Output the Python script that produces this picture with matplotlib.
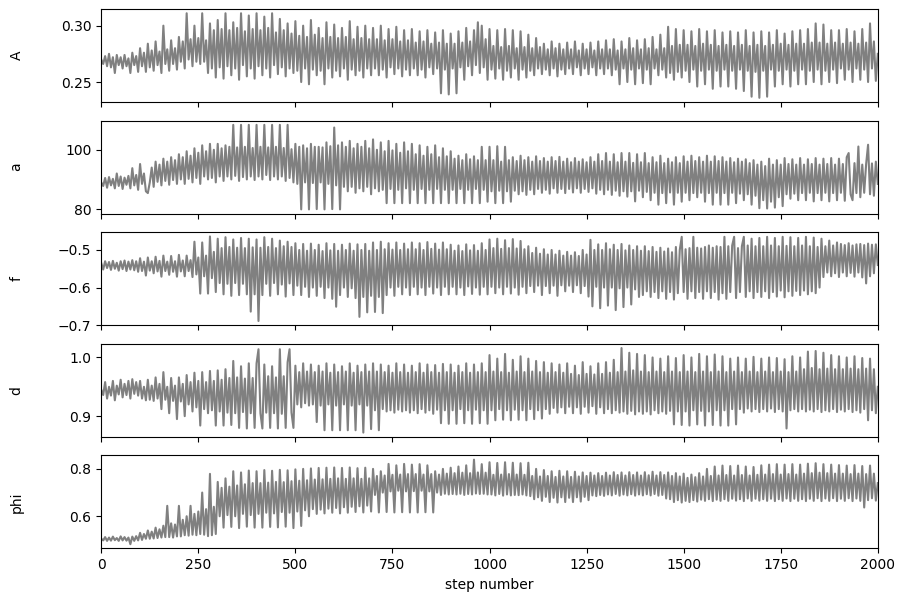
import numpy as np
import matplotlib
matplotlib.use("Agg")
from matplotlib import pyplot as plt

# chain values, one value every 5 steps
step_size = 5
labels = ["A", "a", "f", "d", "phi"]

A_trace = [
    .270, .266, .273, .264, .275, .263, .272, .258, .274, .265, .272, .262, .274, .264, .271, .258, .276, .265, .273, .259,
    .280, .264, .276, .259, .284, .263, .278, .260, .286, .265, .277, .258, .300, .266, .279, .260, .287, .266, .280, .261,
    .290, .268, .286, .262, .311, .270, .288, .264, .300, .268, .289, .266, .311, .268, .287, .258, .302, .262, .296, .254,
    .305, .263, .297, .253, .311, .264, .296, .256, .303, .262, .298, .252, .311, .265, .295, .255, .309, .262, .297, .253,
    .311, .264, .296, .256, .308, .262, .298, .254, .311, .265, .294, .257, .306, .263, .296, .255, .302, .262, .293, .258,
    .304, .260, .291, .250, .300, .262, .290, .248, .305, .261, .292, .256, .298, .260, .289, .248, .303, .262, .290, .254,
    .301, .260, .289, .255, .298, .262, .290, .252, .304, .261, .288, .256, .299, .260, .289, .254, .300, .262, .288, .256,
    .298, .262, .288, .256, .300, .261, .287, .254, .297, .263, .288, .257, .299, .262, .286, .255, .296, .261, .287, .256,
    .297, .262, .285, .256, .295, .261, .286, .254, .296, .263, .284, .257, .294, .262, .285, .240, .296, .261, .284, .239,
    .293, .262, .284, .240, .295, .263, .285, .252, .298, .264, .286, .256, .296, .265, .303, .258, .300, .263, .288, .252,
    .297, .261, .282, .253, .296, .262, .281, .252, .297, .260, .282, .254, .296, .262, .280, .252, .295, .261, .281, .254,
    .292, .260, .280, .256, .289, .262, .281, .257, .284, .261, .279, .256, .286, .262, .280, .255, .284, .261, .279, .257,
    .285, .262, .279, .257, .286, .263, .278, .256, .284, .262, .279, .257, .285, .263, .278, .256, .286, .262, .279, .257,
    .287, .262, .279, .256, .288, .261, .278, .248, .286, .262, .279, .250, .289, .261, .280, .248, .287, .262, .279, .249,
    .288, .261, .280, .248, .290, .262, .279, .256, .292, .261, .280, .254, .299, .258, .282, .252, .297, .259, .283, .254,
    .296, .260, .283, .250, .295, .261, .282, .246, .297, .260, .284, .248, .295, .261, .283, .244, .296, .260, .282, .246,
    .294, .261, .283, .246, .295, .260, .282, .244, .294, .261, .283, .242, .296, .260, .282, .237, .294, .259, .283, .236,
    .295, .260, .282, .237, .294, .261, .283, .246, .296, .260, .284, .248, .293, .261, .283, .246, .295, .260, .284, .248,
    .296, .261, .284, .248, .297, .260, .285, .250, .302, .261, .285, .248, .301, .260, .284, .250, .296, .261, .285, .249,
    .296, .262, .284, .252, .297, .261, .285, .250, .295, .262, .284, .252, .297, .261, .285, .250, .302, .262, .286, .251,
    .275,
]

a_trace = [
    89.0, 87.8, 90.5, 87.2, 90.8, 88.0, 90.2, 87.0, 92.0, 87.8, 91.0, 86.8, 90.6, 88.2, 91.2, 87.0, 93.8, 88.0, 91.5, 86.5,
    95.2, 88.5, 92.0, 86.0, 85.4, 89.0, 94.0, 87.5, 96.0, 89.2, 95.0, 88.0, 97.0, 89.5, 96.0, 88.2, 97.5, 89.8, 96.5, 88.5,
    98.5, 90.0, 97.5, 88.5, 99.5, 90.2, 98.0, 89.0, 100.5, 90.5, 99.0, 88.5, 101.5, 91.0, 99.5, 90.0, 102.0, 90.5, 100.0, 89.0,
    102.0, 91.0, 100.5, 89.5, 101.5, 91.0, 101.0, 90.0, 108.4, 91.2, 100.8, 89.5, 108.4, 90.8, 101.0, 90.0, 108.4, 91.0, 100.6, 89.8,
    108.4, 91.0, 101.0, 90.0, 108.4, 91.5, 100.8, 89.8, 108.4, 91.0, 101.0, 90.0, 108.4, 91.0, 100.6, 89.5, 108.4, 90.5, 100.2, 89.0,
    102.0, 88.5, 101.0, 79.9, 101.5, 89.0, 100.5, 79.9, 102.0, 88.8, 101.0, 80.0, 101.0, 89.0, 100.8, 79.9, 102.5, 88.5, 101.2, 80.0,
    107.5, 88.0, 101.5, 79.9, 102.5, 87.5, 101.0, 86.0, 103.0, 87.5, 100.5, 85.5, 102.0, 87.0, 101.0, 86.0, 103.0, 87.5, 100.5, 85.0,
    103.5, 87.0, 100.0, 86.0, 102.5, 86.5, 99.5, 82.0, 103.0, 86.8, 99.8, 82.0, 102.0, 86.5, 99.0, 82.0, 102.5, 87.0, 99.5, 82.0,
    102.0, 86.5, 98.5, 82.0, 101.5, 86.8, 98.0, 82.0, 101.0, 86.5, 98.5, 82.0, 101.5, 86.8, 97.5, 82.0, 100.5, 86.5, 97.8, 82.0,
    99.5, 86.5, 97.0, 82.0, 98.0, 86.8, 96.5, 82.0, 98.5, 86.5, 96.8, 82.0, 97.8, 86.8, 96.5, 82.0, 101.0, 86.5, 96.5, 82.5,
    101.0, 86.0, 96.5, 82.0, 101.2, 86.2, 96.0, 82.0, 101.0, 86.0, 96.5, 82.5, 97.5, 86.2, 96.2, 85.0, 98.0, 86.0, 96.5, 84.8,
    97.5, 86.5, 96.0, 85.0, 97.8, 86.8, 96.2, 85.5, 97.2, 86.5, 96.0, 85.2, 97.5, 87.0, 96.2, 85.5, 97.6, 86.8, 96.0, 85.4,
    97.0, 86.8, 95.8, 85.6, 97.2, 87.0, 96.0, 85.5, 96.8, 86.8, 95.8, 85.8, 97.5, 87.0, 96.0, 85.2, 98.5, 86.5, 96.2, 85.0,
    98.9, 86.5, 96.0, 84.8, 98.5, 86.2, 95.8, 84.5, 98.9, 86.0, 96.0, 84.2, 98.9, 86.0, 95.6, 82.6, 98.5, 86.2, 95.8, 84.0,
    98.9, 85.8, 95.5, 83.0, 97.5, 85.5, 95.8, 81.5, 98.0, 85.4, 95.5, 82.0, 97.0, 85.6, 95.8, 81.5, 97.5, 85.5, 95.5, 82.5,
    97.8, 85.5, 96.0, 83.0, 98.0, 85.4, 96.2, 84.0, 97.5, 85.5, 96.0, 82.5, 98.0, 85.4, 96.0, 81.5, 97.8, 85.5, 96.2, 81.5,
    97.5, 85.4, 96.0, 81.5, 97.2, 85.5, 95.8, 82.0, 97.0, 85.2, 96.0, 83.0, 96.8, 85.0, 95.5, 81.5, 96.5, 84.5, 95.0, 80.3,
    96.0, 83.0, 94.5, 80.2, 97.0, 82.5, 95.0, 80.5, 96.5, 84.0, 95.0, 81.0, 97.2, 85.0, 95.2, 83.5, 96.8, 85.2, 95.0, 83.0,
    97.2, 85.4, 95.0, 83.0, 96.8, 85.5, 95.2, 82.6, 97.2, 85.4, 95.0, 83.0, 97.0, 85.5, 95.2, 82.6, 97.2, 85.4, 95.0, 83.0,
    97.0, 85.5, 95.2, 82.8, 97.5, 98.9, 85.0, 83.0, 95.5, 85.4, 101.1, 84.0, 95.0, 85.5, 95.2, 101.7, 85.0, 95.4, 84.5, 96.0,
    88.5,
]

f_trace = [
    -.535, -.552, -.530, -.548, -.532, -.553, -.529, -.550, -.534, -.555, -.530, -.551, -.528, -.556, -.531, -.552, -.527, -.554, -.530, -.558,
    -.522, -.556, -.531, -.568, -.520, -.555, -.530, -.562, -.518, -.557, -.529, -.571, -.515, -.556, -.531, -.566, -.516, -.558, -.530, -.571,
    -.513, -.557, -.528, -.570, -.515, -.556, -.527, -.572, -.478, -.565, -.520, -.616, -.480, -.570, -.515, -.616, -.464, -.575, -.505, -.612,
    -.470, -.588, -.495, -.618, -.466, -.590, -.492, -.622, -.472, -.588, -.494, -.620, -.468, -.590, -.495, -.618, -.470, -.664, -.493, -.618,
    -.472, -.689, -.494, -.620, -.466, -.590, -.492, -.622, -.470, -.588, -.495, -.618, -.475, -.592, -.490, -.624, -.478, -.589, -.492, -.620,
    -.482, -.595, -.500, -.620, -.484, -.598, -.502, -.625, -.483, -.600, -.500, -.622, -.486, -.598, -.503, -.628, -.482, -.600, -.501, -.630,
    -.484, -.651, -.502, -.620, -.486, -.600, -.500, -.625, -.483, -.602, -.502, -.628, -.485, -.678, -.500, -.625, -.484, -.666, -.502, -.622,
    -.480, -.665, -.500, -.625, -.478, -.668, -.498, -.620, -.482, -.600, -.499, -.622, -.480, -.598, -.500, -.618, -.483, -.600, -.498, -.620,
    -.480, -.598, -.498, -.618, -.482, -.600, -.500, -.620, -.479, -.598, -.497, -.616, -.483, -.600, -.499, -.620, -.480, -.598, -.498, -.618,
    -.486, -.598, -.502, -.618, -.488, -.600, -.503, -.620, -.485, -.597, -.501, -.617, -.487, -.600, -.502, -.619, -.482, -.598, -.500, -.618,
    -.472, -.598, -.495, -.615, -.470, -.600, -.497, -.618, -.474, -.598, -.495, -.616, -.471, -.600, -.496, -.619, -.476, -.598, -.498, -.615,
    -.490, -.596, -.508, -.612, -.494, -.595, -.510, -.620, -.498, -.596, -.512, -.615, -.500, -.595, -.512, -.622, -.502, -.594, -.515, -.610,
    -.505, -.595, -.515, -.612, -.506, -.594, -.516, -.615, -.500, -.596, -.512, -.624, -.473, -.650, -.500, -.598, -.485, -.655, -.500, -.600,
    -.482, -.648, -.498, -.600, -.486, -.660, -.500, -.602, -.484, -.652, -.501, -.600, -.488, -.645, -.500, -.605, -.490, -.625, -.502, -.620,
    -.490, -.610, -.503, -.625, -.492, -.612, -.505, -.628, -.494, -.610, -.504, -.630, -.496, -.612, -.506, -.632, -.492, -.615, -.500, -.465,
    -.612, -.498, -.630, -.495, -.610, -.465, -.628, -.494, -.612, -.496, -.630, -.492, -.610, -.488, -.628, -.494, -.612, -.490, -.632, -.492,
    -.615, -.465, -.630, -.490, -.612, -.488, -.465, -.628, -.495, -.612, -.490, -.465, -.625, -.488, -.610, -.470, -.628, -.490, -.612, -.468,
    -.625, -.490, -.610, -.465, -.628, -.488, -.612, -.468, -.624, -.490, -.608, -.465, -.626, -.489, -.610, -.466, -.622, -.490, -.609, -.468,
    -.620, -.488, -.608, -.465, -.618, -.490, -.610, -.467, -.615, -.492, -.600, -.470, -.572, -.490, -.560, -.475, -.570, -.488, -.562, -.480,
    -.572, -.484, -.560, -.487, -.570, -.482, -.561, -.488, -.571, -.485, -.560, -.484, -.573, -.487, -.589, -.483, -.570, -.486, -.562, -.485,
    -.540,
]

d_trace = [
    .945, .936, .958, .930, .950, .935, .960, .927, .952, .937, .962, .932, .955, .936, .960, .930, .963, .938, .958, .935,
    .960, .930, .950, .927, .962, .928, .952, .926, .966, .930, .955, .912, .975, .928, .950, .905, .965, .926, .952, .895,
    .966, .925, .955, .900, .970, .920, .958, .908, .974, .915, .960, .884, .975, .912, .958, .905, .977, .910, .960, .884,
    .978, .908, .962, .884, .980, .906, .965, .885, .994, .905, .966, .880, .985, .907, .964, .879, .990, .905, .965, .880,
    .990, 1.014, .905, .879, .988, .906, .968, .880, .985, .905, .966, .879, 1.014, .904, .968, .880, .992, 1.014, .906, .880,
    .986, .920, .975, .915, .990, .922, .976, .918, .988, .920, .975, .890, .986, .918, .976, .876, .990, .920, .974, .876,
    .988, .918, .975, .876, .985, .920, .976, .876, .990, .918, .974, .876, .986, .920, .975, .872, .988, .918, .976, .878,
    .990, .910, .976, .876, .988, .912, .975, .908, .986, .910, .974, .906, .990, .911, .975, .908, .988, .910, .974, .906,
    .986, .910, .975, .905, .990, .912, .974, .906, .988, .910, .975, .904, .987, .911, .974, .888, .989, .910, .975, .887,
    .988, .910, .974, .887, .986, .912, .975, .888, .990, .910, .974, .887, .988, .911, .975, .888, .990, .910, .975, .887,
    1.004, .910, .976, .893, .998, .912, .975, .894, 1.006, .910, .974, .893, .996, .911, .976, .894, 1.002, .910, .975, .893,
    .998, .912, .976, .895, .994, .910, .975, .896, .992, .912, .974, .904, .990, .914, .975, .906, .988, .915, .974, .905,
    .990, .916, .972, .905, .986, .915, .970, .904, .992, .916, .972, .906, .985, .917, .971, .904, .990, .915, .972, .905,
    .992, .912, .974, .905, .996, .910, .975, .906, 1.016, .908, .976, .904, 1.008, .909, .978, .903, 1.006, .908, .976, .904,
    1.004, .908, .975, .903, 1.000, .910, .976, .905, .998, .908, .975, .904, 1.002, .909, .976, .886, .999, .908, .975, .885,
    1.004, .908, .976, .884, 1.000, .910, .975, .886, 1.006, .909, .976, .884, 1.002, .908, .975, .885, 1.005, .910, .976, .884,
    1.002, .910, .975, .884, .998, .912, .976, .886, 1.000, .912, .975, .906, .998, .913, .976, .908, 1.001, .912, .975, .907,
    .998, .912, .976, .908, 1.000, .913, .975, .907, .999, .912, .976, .908, .997, .879, .975, .910, 1.002, .912, .976, .908,
    1.000, .912, .980, .908, 1.010, .911, .982, .908, 1.011, .912, .980, .907, 1.008, .910, .981, .908, 1.004, .912, .980, .907,
    1.002, .911, .980, .908, 1.000, .912, .981, .907, 1.002, .910, .980, .906, .999, .912, .981, .893, .998, .910, .980, .905,
    .950,
]

phi_trace = [
    .505, .498, .512, .496, .510, .497, .514, .499, .508, .496, .515, .498, .512, .497, .510, .482, .514, .496, .516, .498,
    .530, .500, .525, .505, .540, .505, .535, .506, .552, .508, .545, .510, .560, .512, .644, .512, .570, .510, .565, .515,
    .644, .515, .585, .520, .600, .518, .644, .522, .610, .520, .620, .525, .700, .522, .630, .516, .779, .520, .640, .525,
    .745, .600, .720, .552, .760, .605, .725, .555, .790, .600, .730, .550, .785, .610, .735, .556, .793, .605, .740, .552,
    .790, .610, .740, .552, .795, .615, .742, .555, .792, .612, .745, .553, .796, .618, .744, .556, .794, .615, .748, .550,
    .798, .620, .750, .559, .800, .625, .752, .600, .802, .630, .755, .610, .804, .628, .756, .612, .805, .632, .758, .615,
    .806, .635, .760, .612, .804, .638, .758, .615, .806, .640, .760, .618, .803, .642, .758, .616, .805, .645, .760, .620,
    .800, .690, .770, .616, .790, .700, .772, .618, .821, .705, .775, .616, .815, .708, .776, .617, .821, .705, .778, .616,
    .818, .706, .778, .616, .820, .708, .776, .617, .815, .705, .778, .616, .790, .700, .776, .690, .800, .695, .780, .692,
    .805, .694, .782, .692, .810, .695, .784, .690, .815, .694, .782, .692, .839, .696, .785, .694, .820, .695, .784, .692,
    .828, .692, .775, .688, .825, .694, .776, .687, .828, .692, .778, .688, .826, .690, .776, .689, .824, .692, .775, .688,
    .826, .685, .770, .672, .800, .680, .768, .665, .795, .682, .770, .660, .790, .678, .766, .658, .792, .680, .768, .660,
    .790, .678, .766, .660, .788, .680, .768, .662, .785, .682, .770, .668, .784, .688, .772, .685, .782, .690, .770, .686,
    .784, .692, .772, .688, .786, .694, .774, .687, .785, .692, .772, .688, .786, .693, .774, .687, .785, .692, .772, .688,
    .786, .693, .773, .688, .788, .694, .772, .687, .786, .690, .774, .675, .785, .672, .770, .660, .782, .668, .768, .658,
    .780, .665, .762, .660, .776, .668, .765, .662, .782, .670, .768, .665, .800, .672, .770, .664, .810, .670, .772, .665,
    .814, .672, .774, .665, .812, .674, .772, .666, .814, .672, .774, .664, .810, .675, .772, .665, .808, .674, .775, .666,
    .815, .672, .776, .665, .818, .674, .778, .664, .820, .672, .776, .665, .818, .675, .778, .664, .820, .674, .776, .665,
    .818, .672, .780, .664, .822, .674, .782, .665, .824, .676, .784, .664, .820, .675, .782, .665, .818, .676, .780, .664,
    .816, .674, .780, .665, .814, .676, .778, .664, .816, .675, .780, .665, .812, .637, .778, .668, .814, .676, .780, .666,
    .740,
]

traces = [A_trace, a_trace, f_trace, d_trace, phi_trace]
print([len(t) for t in traces])

fig, axes = plt.subplots(5, 1, figsize=(9.04, 6.02), dpi=100, sharex=True)
fig.subplots_adjust(left=0.112, right=0.971, top=0.985, bottom=0.089, hspace=0.2)

for ax, trace, label in zip(axes, traces, labels):
    steps = np.arange(len(trace)) * step_size
    ax.plot(steps, trace, color="gray")
    ax.set_xlim(0, 2000)
    ax.set_ylabel(label)
    ax.yaxis.set_label_coords(-0.1, 0.5)

axes[-1].set_xlabel("step number")

plt.savefig("out.png")
